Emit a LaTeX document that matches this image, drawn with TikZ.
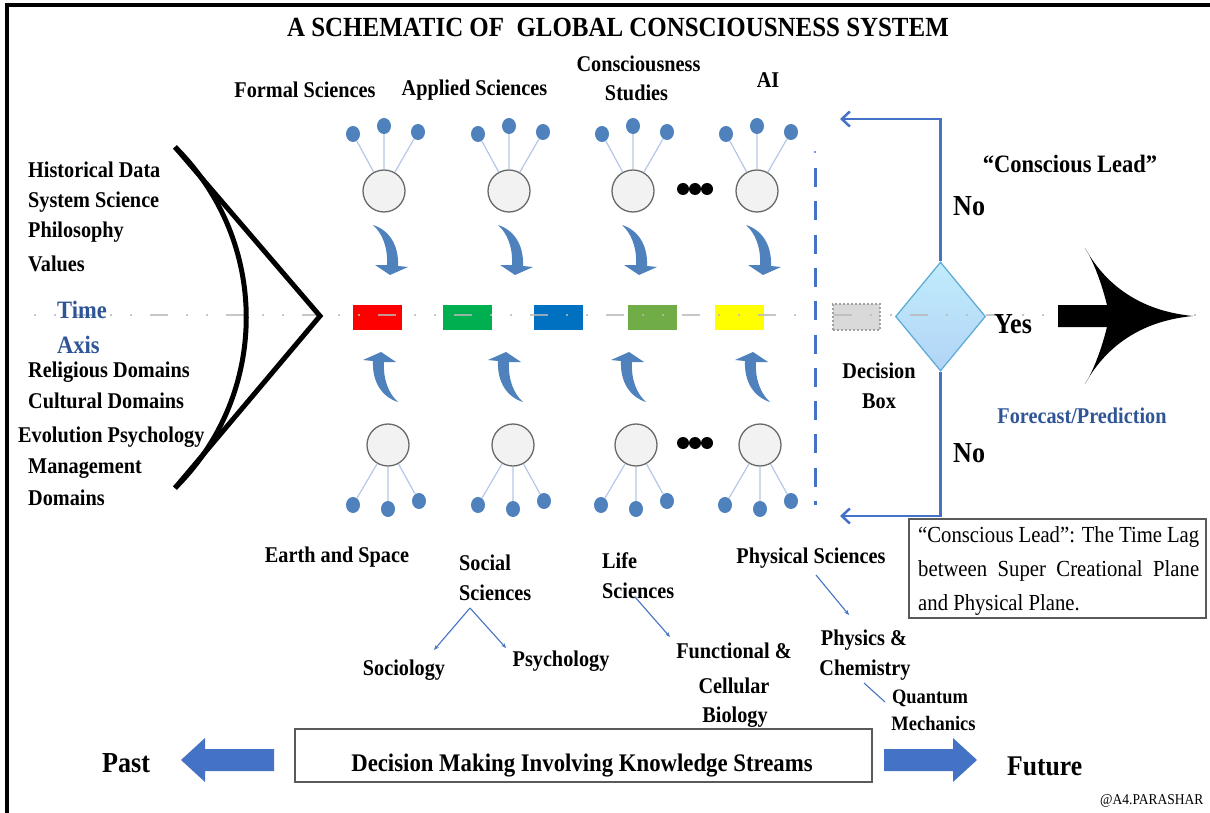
\documentclass[tikz,border=0pt]{standalone}
\usepackage{fontspec}
\setmainfont[FakeStretch=0.9]{Liberation Serif}
\usetikzlibrary{arrows.meta,shapes.geometric}

\definecolor{flowblue}{RGB}{68,114,196}
\definecolor{leafblue}{RGB}{79,129,189}
\definecolor{twigblue}{RGB}{180,199,231}
\definecolor{inkblue}{RGB}{47,85,151}
\definecolor{hubfill}{RGB}{242,242,242}
\definecolor{hubedge}{RGB}{105,105,105}
\definecolor{axisgray}{RGB}{185,185,185}
\definecolor{slotred}{RGB}{255,0,0}
\definecolor{slotgreen}{RGB}{0,176,80}
\definecolor{slotblue}{RGB}{0,112,192}
\definecolor{slotolive}{RGB}{112,173,71}
\definecolor{slotyellow}{RGB}{255,255,0}
\definecolor{pendfill}{RGB}{217,217,217}
\definecolor{pendedge}{RGB}{160,160,160}
\definecolor{diatop}{RGB}{192,236,251}
\definecolor{diabot}{RGB}{178,212,247}
\definecolor{diaedge}{RGB}{96,172,214}
\definecolor{boxedge}{RGB}{90,90,90}

\newcommand{\sizept}[1]{\fontsize{#1}{#1}\selectfont}

\begin{document}
\begin{tikzpicture}[x=1pt,y=-1pt,
  lbl/.style={font=\bfseries\sizept{22.5}, inner sep=0, anchor=base},
  lblw/.style={lbl, anchor=base west},
  hub/.style={circle, fill=hubfill, draw=hubedge, line width=1.3, minimum size=42, inner sep=0},
  leaf/.style={ellipse, fill=leafblue, minimum width=14, minimum height=16, inner sep=0},
  twig/.style={draw=twigblue, line width=1.2},
  more/.style={circle, fill=black, minimum size=12, inner sep=0},
  slot/.style={minimum width=49, minimum height=25, inner sep=0},
  fb/.style={draw=flowblue, line width=2.5, -{Straight Barb[length=8pt,width=15pt]}},
  thin/.style={draw=flowblue, line width=1.1, -{Stealth[length=5pt,width=4pt]}},
  bigarrow/.style={fill=flowblue},
  crescent/.pic={
    \fill[leafblue] (0,0) .. controls (16,5) and (26,20) .. (25,41)
      -- (35,42) -- (17,50) -- (2,40) -- (14,40)
      .. controls (15,22) and (9,8) .. (0,0) -- cycle;
  }
]
\useasboundingbox (0,0) rectangle (1210,813);

% frame: top and left edges only
\draw[line width=4.5] (7,5) -- (1210,5);
\draw[line width=4.5] (7,3) -- (7,813);

% title
\node[lbl, font=\bfseries\sizept{27.7}] (title) at (618,36.5) {A SCHEMATIC OF~ GLOBAL CONSCIOUSNESS SYSTEM};

% coloured slots on the time axis
\node[slot, fill=slotred]    (s1) at (377.5,317.5) {};
\node[slot, fill=slotgreen]  (s2) at (467.5,317.5) {};
\node[slot, fill=slotblue]   (s3) at (558.5,317.5) {};
\node[slot, fill=slotolive]  (s4) at (652.5,317.5) {};
\node[slot, fill=slotyellow] (s5) at (739.5,317.5) {};
\node[minimum width=47, minimum height=26, inner sep=0, fill=pendfill,
      draw=pendedge, line width=1.4, dash pattern=on 2pt off 2pt] (pend) at (856.5,317) {};

% decision diamond
\node[diamond, minimum width=90, minimum height=109, inner sep=0,
      top color=diatop, bottom color=diabot, draw=diaedge, line width=1.3] (dia) at (940.5,316.5) {};

% time axis
\draw[axisgray, line width=2, opacity=0.8,
      dash pattern=on 18pt off 18pt on 2pt off 18pt on 2pt off 18pt, dash phase=30pt]
  (28,315) -- (1200,315);

% lens and chevron on the left
\draw[line width=5] (175,147) .. controls (270,241) and (270,394) .. (175,488);
\draw[line width=5, line join=miter] (175,147) -- (320,316) -- (175,488);

% forecast arrow
\fill[black] (1058,305) -- (1107,305) .. controls (1102,285) and (1094,262) .. (1085,248)
  .. controls (1100,275) and (1130,310) .. (1193,316)
  .. controls (1130,322) and (1100,357) .. (1085,384)
  .. controls (1094,370) and (1102,347) .. (1107,327) -- (1058,327) -- cycle;

% dashed boundary
\draw[flowblue, line width=3, dash pattern=on 19pt off 14.3pt] (815,168) -- (815,505);
\fill[flowblue] (815,152) circle (1.2);

% feedback loops
\coordinate (backtop) at (840,119);
\coordinate (backbot) at (840,516);
\draw[fb] (dia.north) |- (backtop);
\draw[fb] (dia.south) |- (backbot);

% upper knowledge clusters
\foreach \i/\cx in {1/384,2/509,3/633,4/757}{
  \node[hub] (th\i) at (\cx,191) {};
  \node[leaf] (ta\i) at (\cx-31,134) {};
  \node[leaf] (tb\i) at (\cx,126) {};
  \node[leaf] (tc\i) at (\cx+34,132) {};
  \draw[twig] (ta\i) -- (th\i) (tb\i) -- (th\i) (tc\i) -- (th\i);
  \pic (td\i) at (\cx-11,225) {crescent};
}
% lower knowledge clusters
\foreach \i/\cx in {1/388,2/513,3/636,4/760}{
  \node[hub] (bh\i) at (\cx,445) {};
  \node[leaf] (ba\i) at (\cx-35,505) {};
  \node[leaf] (bb\i) at (\cx,509) {};
  \node[leaf] (bc\i) at (\cx+31,501) {};
  \draw[twig] (ba\i) -- (bh\i) (bb\i) -- (bh\i) (bc\i) -- (bh\i);
  \pic[rotate=180] (bu\i) at (\cx+10,402) {crescent};
}
\foreach \j/\dx in {1/683,2/695,3/707}{
  \node[more] (tm\j) at (\dx,189) {};
  \node[more] (bm\j) at (\dx,443) {};
}

% upper labels
\node[lbl] (formal) at (305,98) {Formal Sciences};
\node[lbl] (applied) at (474.5,96) {Applied Sciences};
\node[lbl] (consc) at (638.5,72) {Consciousness};
\node[lbl] (studies) at (636.5,101) {Studies};
\node[lbl] (ai) at (768,88) {AI};

% left labels
\node[lblw] (hist) at (28,178) {Historical Data};
\node[lblw] (syss) at (28,208) {System Science};
\node[lblw] (phil) at (28,237) {Philosophy};
\node[lblw] (vals) at (28,271) {Values};
\node[lblw, font=\bfseries\sizept{25}, text=inkblue] (time) at (57,318) {Time};
\node[lblw, font=\bfseries\sizept{25}, text=inkblue] (axis) at (57,353) {Axis};
\node[lblw] (relig) at (28,377) {Religious Domains};
\node[lblw] (cult) at (28,408) {Cultural Domains};
\node[lblw] (evol) at (18,442) {Evolution Psychology};
\node[lblw] (mgmt) at (28,473) {Management};
\node[lblw] (doms) at (28,505) {Domains};

% decision side
\node[lbl, font=\bfseries\sizept{25}] (lead) at (1070,173) {“Conscious Lead”};
\node[lblw, font=\bfseries\sizept{29}] (no1) at (953,215) {No};
\node[lblw, font=\bfseries\sizept{29}] (no2) at (953,462) {No};
\node[lblw, font=\bfseries\sizept{29}] (yes) at (994,333) {Yes};
\node[lbl] (dec1) at (879,378) {Decision};
\node[lbl] (dec2) at (879,408) {Box};
\node[lbl, text=inkblue] (fore) at (1082,423) {Forecast/Prediction};

% note box
\node[draw=boxedge, line width=1.3, minimum width=297, minimum height=99, inner sep=0] (note) at (1057.5,568.5) {};
\node[anchor=base west, inner sep=0, font=\sizept{23}] (note1) at (918,542) {\makebox[281pt][s]{“Conscious Lead”: The Time Lag}};
\node[anchor=base west, inner sep=0, font=\sizept{23}] (note2) at (918,576) {\makebox[281pt][s]{between Super Creational Plane}};
\node[anchor=base west, inner sep=0, font=\sizept{23}] (note3) at (918,610) {and Physical Plane.};

% lower labels
\node[lbl] (earth) at (337,562) {Earth and Space};
\node[lblw] (soc1) at (459,570) {Social};
\node[lblw] (soc2) at (459,600) {Sciences};
\node[lblw] (life1) at (602,568) {Life};
\node[lblw] (life2) at (602,598) {Sciences};
\node[lbl] (phys) at (811,563) {Physical Sciences};
\node[lbl] (sociol) at (404,675) {Sociology};
\node[lbl] (psych) at (561,666) {Psychology};
\node[lbl] (func) at (734,658) {Functional \&};
\node[lbl] (cell) at (734,693) {Cellular};
\node[lbl] (biol) at (735,722) {Biology};
\node[lbl] (physchem1) at (864,645) {Physics \&};
\node[lbl] (physchem2) at (865,675) {Chemistry};
\node[lbl, font=\bfseries\sizept{20.5}] (quant1) at (930,703) {Quantum};
\node[lbl, font=\bfseries\sizept{20.5}] (quant2) at (933.5,730) {Mechanics};

% branch pointers
\coordinate (socroot) at (470,608);
\coordinate (socl) at (434,650);
\coordinate (socr) at (506,648);
\coordinate (liferoot) at (635,597);
\coordinate (lifetip) at (670,637);
\coordinate (physroot) at (816,575);
\coordinate (phystip) at (849,615);
\coordinate (chemroot) at (864,683);
\coordinate (chemtip) at (885,702);
\draw[thin] (socroot) -- (socl);
\draw[thin] (socroot) -- (socr);
\draw[thin] (liferoot) -- (lifetip);
\draw[thin] (physroot) -- (phystip);
\draw[draw=flowblue, line width=1.1] (chemroot) -- (chemtip);

% bottom strip
\node[draw=boxedge, line width=1.2, minimum width=577, minimum height=53, inner sep=0] (dm) at (583.5,755.5) {};
\node[lbl, font=\bfseries\sizept{25.3}] (dmtext) at (582,771) {Decision Making Involving Knowledge Streams};
\fill[bigarrow] (181,760) -- (205,738) -- (205,749) -- (274,749) -- (274,771) -- (205,771) -- (205,782) -- cycle;
\fill[bigarrow] (884,749) -- (953,749) -- (953,738) -- (977,760) -- (953,782) -- (953,771) -- (884,771) -- cycle;
\node[lblw, font=\bfseries\sizept{29}] (past) at (102,772) {Past};
\node[lblw, font=\bfseries\sizept{28.5}] (future) at (1007,775) {Future};
\node[anchor=base west, inner sep=0, font=\sizept{15}] (sign) at (1100,804) {@A4.PARASHAR};
\end{tikzpicture}
\end{document}
